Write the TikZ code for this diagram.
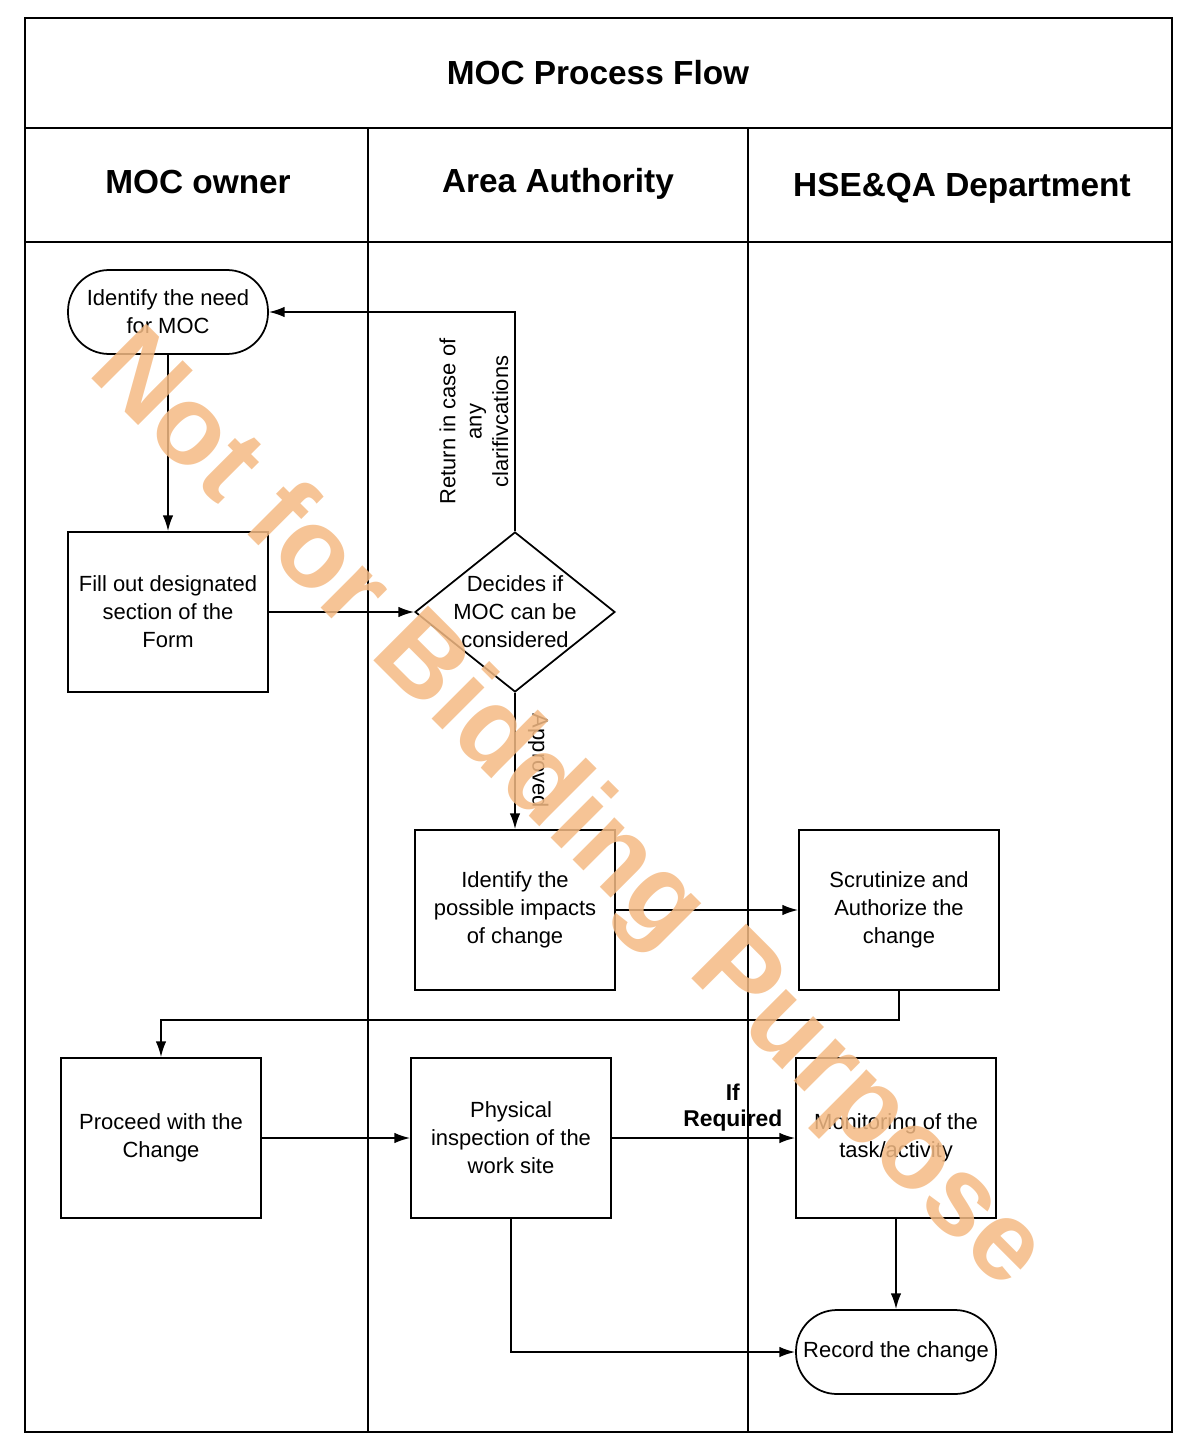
\documentclass[tikz,border=0pt]{standalone}
\usepackage{fontspec}
\setmainfont{Liberation Sans}
\usetikzlibrary{shapes.geometric,arrows.meta}

\definecolor{stamp}{RGB}{244,186,132}

\begin{document}
\begin{tikzpicture}[x=0.02cm,y=-0.02cm,
  rule/.style={line width=1.4pt},
  divider/.style={line width=0.9pt},
  head/.style={font=\fontsize{19}{22}\selectfont\bfseries},
  stepbox/.style={draw,line width=1pt,minimum width=4cm,minimum height=3.2cm,
    align=center,font=\fontsize{12.5}{16}\selectfont},
  terminal/.style={draw,line width=1pt,rounded corners=0.82cm,minimum width=4cm,
    minimum height=1.68cm,align=center,font=\fontsize{12.5}{16}\selectfont},
  decision/.style={draw,diamond,aspect=1.25,line width=1pt,minimum width=4cm,
    minimum height=3.2cm,inner sep=-4pt,align=center,font=\fontsize{12.5}{16}\selectfont},
  flow/.style={line width=1pt,-{Latex[length=9pt,width=6pt]}},
  note/.style={font=\fontsize{12.5}{15}\selectfont,align=center}]

\useasboundingbox (0,0) rectangle (1176,1456);

% swimlane frame
\draw[rule] (25,18) rectangle (1172,1432);
\draw[rule] (25,128) -- (1172,128);
\draw[rule] (25,242) -- (1172,242);
\draw[divider] (368,128) -- (368,1432);
\draw[divider] (748,128) -- (748,1432);

\node[head] (title) at (598,73) {MOC Process Flow};
\node[head] (hOwner) at (198,182) {MOC owner};
\node[head] (hArea) at (558,184) {Area Authority};
\node[head] (hHse) at (962,188) {HSE\&QA Department};

% steps
\node[terminal] (need) at (168,312) {Identify the need\\for MOC};
\node[stepbox] (fill) at (168,612) {Fill out designated\\section of the\\Form};
\node[decision] (decide) at (515,612) {Decides if\\MOC can be\\considered};
\node[stepbox] (impact) at (515,910) {Identify the\\possible impacts\\of change};
\node[stepbox] (scrut) at (899,910) {Scrutinize and\\Authorize the\\change};
\node[stepbox] (proceed) at (161,1138) {Proceed with the\\Change};
\node[stepbox] (phys) at (511,1138) {Physical\\inspection of the\\work site};
\node[stepbox] (monit) at (896,1138) {Monitoring of the\\task/activity};
\node[terminal] (record) at (896,1352) {Record the change};

\coordinate (back) at (899,1020);

% connectors
\draw[flow] (need) -- (fill);
\draw[flow] (fill) -- (decide);
\draw[flow] (decide.north) -- node[note,midway,rotate=90,anchor=south]
  {Return in case of\\any\\clarifivcations} (decide.north |- need.east) -- (need.east);
\draw[flow] (decide.south) -- node[note,midway,rotate=-90,anchor=south,inner sep=7pt]
  {Approved} (impact.north);
\draw[flow] (impact) -- (scrut);
\draw[flow] (scrut.south) -- (back) -| (proceed.north);
\draw[flow] (proceed) -- (phys);
\draw[flow] (phys) -- node[note,pos=0.66,above,font=\fontsize{13}{15}\selectfont\bfseries]
  {If\\Required} (monit);
\draw[flow] (monit) -- (record);
\draw[flow] (phys.south) |- (record.west);

% watermark
\node[text=stamp,opacity=0.85,rotate=-45,font=\fontsize{64}{70}\selectfont\bfseries]
  (stampText) at (566,812) {Not for Bidding Purpose};

\end{tikzpicture}
\end{document}
